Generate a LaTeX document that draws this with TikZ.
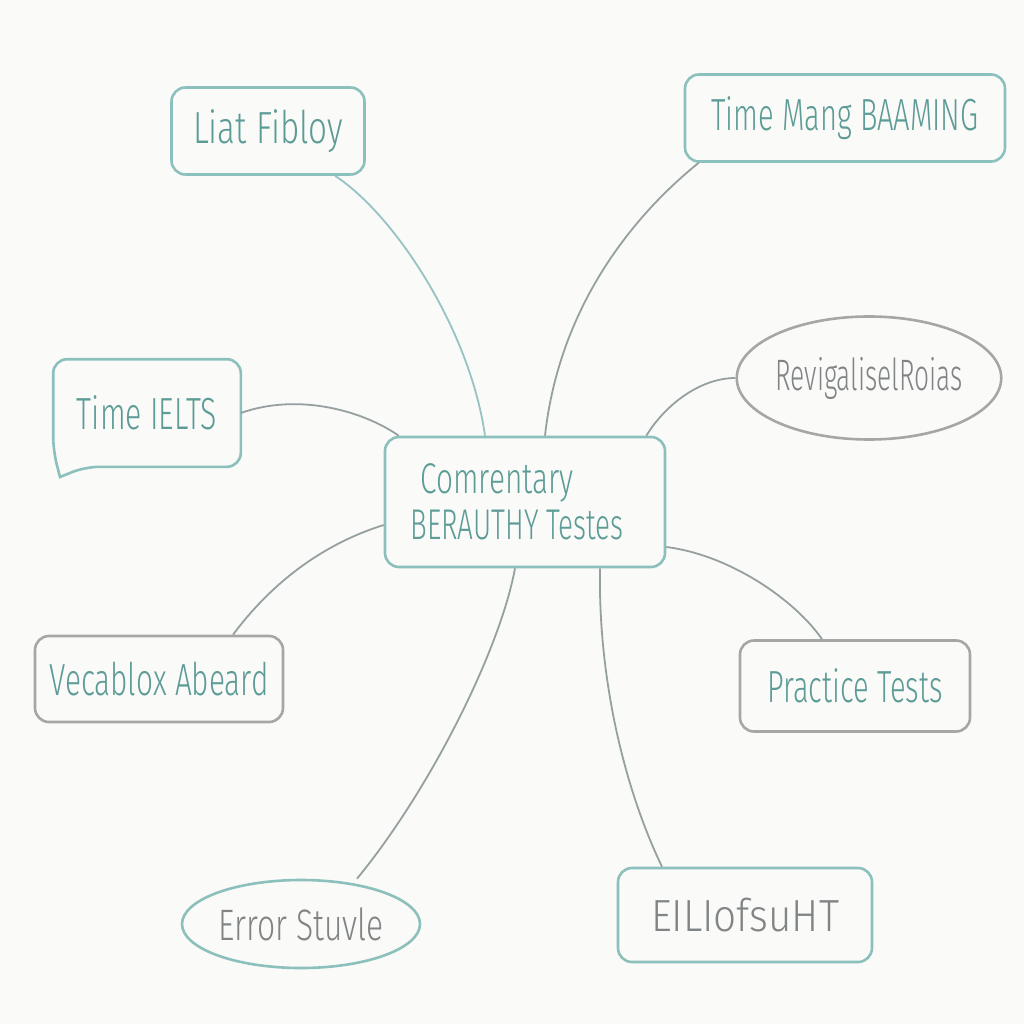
\documentclass[tikz,border=0pt]{standalone}
\usepackage{fontspec}
\setmainfont{Fira Sans Light}
\usetikzlibrary{shapes.geometric}
\definecolor{bgc}{RGB}{250,250,248}
\definecolor{tealb}{RGB}{140,192,188}
\definecolor{tealt}{RGB}{92,155,150}
\definecolor{grayb}{RGB}{165,167,167}
\definecolor{grayt}{RGB}{128,132,132}
\definecolor{conn}{RGB}{150,160,160}
\definecolor{connt}{RGB}{150,195,195}
\newcommand\fitt[2]{\resizebox{#1pt}{\height}{#2}}
\begin{document}
\begin{tikzpicture}[x=1pt,y=-1pt,
  box/.style={rounded corners=14pt, line width=2.6pt, inner sep=0pt, font=\fontsize{45}{52}\selectfont},
  tealbox/.style={box, draw=tealb, text=tealt},
  graybox/.style={box, draw=grayb, text=tealt},
  tealell/.style={ellipse, line width=2.6pt, inner sep=0pt, draw=tealb, text=grayt, font=\fontsize{44}{50}\selectfont},
  grayell/.style={ellipse, line width=2.6pt, inner sep=0pt, draw=grayb, text=grayt, font=\fontsize{44}{50}\selectfont},
  link/.style={draw=conn, line width=1.8pt},
  linkt/.style={draw=connt, line width=1.8pt}
]
\fill[bgc] (0,0) rectangle (1024,1024);
\useasboundingbox (0,0) rectangle (1024,1024);

% nodes
\node[tealbox, minimum width=193pt, minimum height=87pt] (liat) at (268,131) {\fitt{150}{Liat Fibloy}};
\node[tealbox, minimum width=320pt, minimum height=87pt] (tmb) at (845,118) {\fitt{267}{Time Mang BAAMING}};
\node[grayell, minimum width=228pt, minimum height=123pt] (rev) at (869,378) {\fitt{187}{RevigaliselRoias}};
\node[box, text=tealt, minimum width=185pt, minimum height=105pt] (ielts) at (147,413) {\fitt{140}{Time IELTS}};
\coordinate (ieltstip) at (60,477);
\draw[tealb, line width=2.6pt, rounded corners=14pt]
  ([xshift=32pt]ielts.south west) [sharp corners] -- (ieltstip) [rounded corners=14pt] -- ([yshift=16pt]ielts.south west)
  -- (ielts.north west) -- (ielts.north east) -- (ielts.south east) -- cycle;
\node[tealbox, minimum width=280pt, minimum height=130pt, align=left, font=\fontsize{43}{50}\selectfont] (cen) at (525,502)
  {\hspace*{10pt}\fitt{153}{Comrentary}\\[-4pt]\fitt{213}{BERAUTHY Testes}\hspace*{16pt}};
\node[graybox, minimum width=248pt, minimum height=86pt] (voc) at (159,679) {\fitt{219}{Vecablox Abeard}};
\node[graybox, minimum width=230pt, minimum height=91pt] (prac) at (855,686) {\fitt{175}{Practice Tests}};
\node[tealell, minimum width=238pt, minimum height=88pt] (err) at (301,924) {\fitt{165}{Error Stuvle}};
\node[tealbox, text=grayt, minimum width=254pt, minimum height=94pt] (eil) at (745,915) {\fitt{188}{EILIofsuHT}};

% connectors
\draw[linkt] ([xshift=67pt]liat.south) .. controls (395,215) and (470,330) .. ([xshift=-40pt]cen.north);
\draw[link] ([xshift=15pt]tmb.south west) .. controls (640,210) and (560,300) .. ([xshift=20pt]cen.north);
\draw[link] (rev.west) .. controls (700,378) and (665,405) .. ([xshift=-20pt]cen.north east);
\draw[link] (ielts.east) .. controls (300,392) and (365,412) .. ([xshift=15pt]cen.north west);
\draw[link] ([xshift=74pt]voc.north) .. controls (270,585) and (320,545) .. ([yshift=-23pt]cen.west);
\draw[link] ([xshift=-33pt]prac.north) .. controls (795,600) and (730,555) .. ([yshift=-45pt]cen.east);
\draw[link] ([xshift=56pt]err.north) .. controls (430,790) and (500,650) .. ([xshift=-10pt]cen.south);
\draw[link] ([xshift=-83pt]eil.north) .. controls (625,790) and (598,680) .. ([xshift=75pt]cen.south);
\end{tikzpicture}
\end{document}
